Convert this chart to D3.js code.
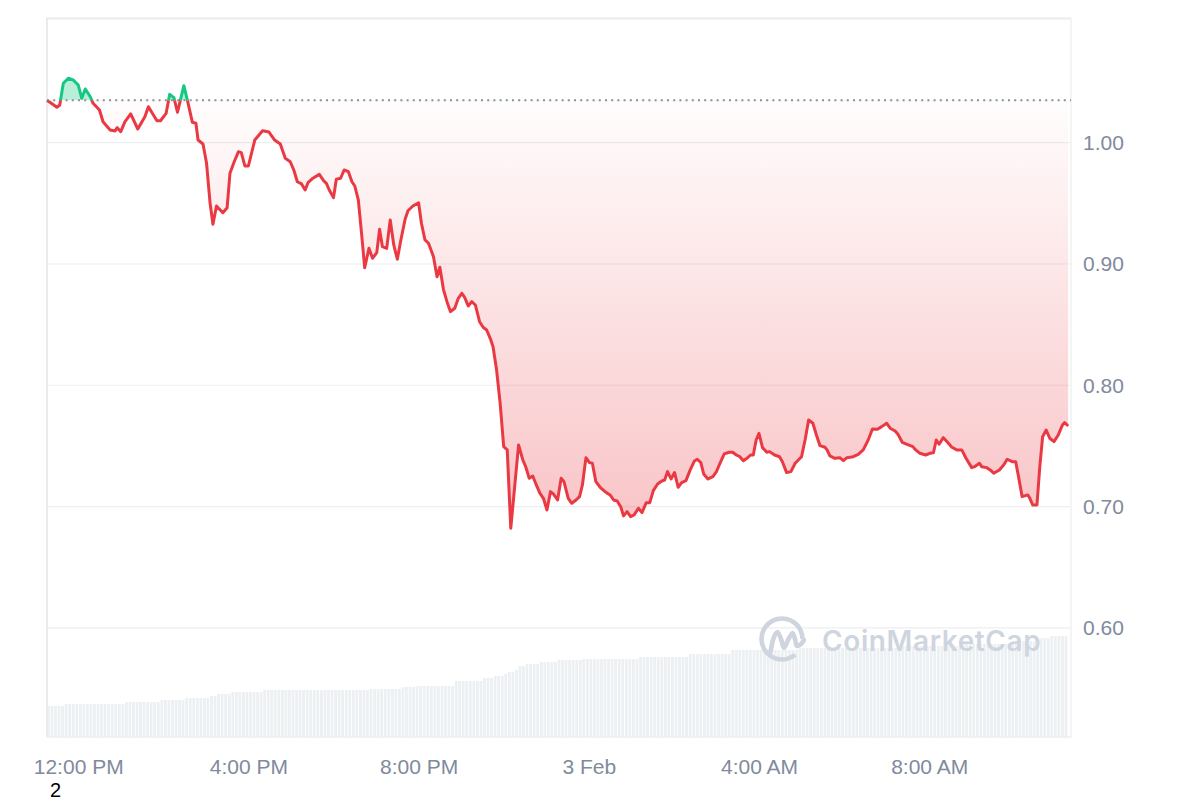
<!DOCTYPE html>
<html><head><meta charset="utf-8">
<script src="https://cdn.jsdelivr.net/npm/d3@7"></script>
<style>body{margin:0;background:#fff}svg{display:block}</style>
</head><body>
<svg id="c" width="1200" height="800"></svg>
<script>
// ---------- DATA ----------
const startTime = "2025-02-02T11:16";
// price samples: minutes after start, price (USD)
const priceMinutes = [0,14,18,23,30,37,44,49,54,61,65,74,79,89,96,99,104,110,118,128,138,143,155,160,168,173,179,184,193,199,205,210,213,220,225,230,234,239,248,254,258,264,270,274,279,284,293,304,313,321,329,336,
343,348,353,359,364,368,375,384,390,394,398,404,408,414,419,425,430,434,439,444,448,454,459,465,469,473,479,484,489,494,499,505,509,516,524,528,533,538,545,550,554,559,564,569,575,580,585,589,594,599,604,610,615,620,625,629,634,639,644,649,654,665,
671,675,680,685,690,695,700,705,710,714,720,725,729,735,740,746,751,755,760,765,769,774,780,787,794,799,804,809,813,818,823,828,834,839,845,850,855,861,867,871,875,880,885,890,895,901,907,913,917,922,926,932,939,944,949,955,962,967,972,977,982,987,992,996,1000,1004,1009,1015,1019,1026,1033,1037,1043,
1049,1055,1064,1069,1074,1080,1085,1090,1097,1100,1104,1111,1118,1123,1128,1137,1144,1151,1158,1164,1171,1177,1184,1189,1196,1200,1206,1212,1221,1225,1231,1239,1245,1250,1254,1258,1264,1268,1276,1283,1290,1296,1304,1308,1315,1318,1325,1330,1335,1343,1349,1354,1361,1366,1370,1375,1383,1386,1390,1396,1400,1404,1409,1414,1420,1426,1432,1435,1440];
const prices = [1.0350,1.0292,1.0311,1.0490,1.0531,1.0517,1.0476,1.0366,1.0443,1.0379,1.0325,1.0270,1.0173,1.0105,1.0096,1.0124,1.0091,1.0173,1.0237,1.0113,1.0214,1.0297,1.0181,1.0181,1.0242,1.0399,1.0371,1.0251,1.0470,1.0325,1.0168,1.0160,1.0022,0.9989,0.9830,0.9500,0.9327,0.9478,0.9423,0.9464,0.9748,0.9843,0.9926,0.9918,0.9808,0.9808,1.0022,1.0099,1.0088,1.0022,0.9989,0.9871,
0.9843,0.9775,0.9678,0.9660,0.9610,0.9670,0.9707,0.9739,0.9687,0.9665,0.9610,0.9547,0.9698,0.9707,0.9775,0.9761,0.9678,0.9643,0.9528,0.9225,0.8969,0.9129,0.9047,0.9093,0.9286,0.9143,0.9129,0.9363,0.9157,0.9039,0.9198,0.9369,0.9439,0.9478,0.9505,0.9336,0.9198,0.9171,0.9060,0.8895,0.8973,0.8791,0.8689,0.8607,0.8635,0.8717,0.8758,0.8725,0.8654,0.8689,0.8662,0.8524,0.8478,0.8456,0.8387,0.8318,0.8126,0.7852,0.7494,0.7467,0.6821,0.7508,
0.7384,0.7329,0.7233,0.7252,0.7178,0.7110,0.7068,0.6972,0.7123,0.7104,0.7054,0.7233,0.7205,0.7068,0.7027,0.7054,0.7082,0.7178,0.7403,0.7362,0.7357,0.7205,0.7159,0.7123,0.7096,0.7054,0.7046,0.6999,0.6923,0.6958,0.6917,0.6931,0.6986,0.6950,0.7032,0.7032,0.7131,0.7186,0.7211,0.7219,0.7288,0.7228,0.7280,0.7159,0.7197,0.7214,0.7302,0.7376,0.7390,0.7362,0.7269,0.7228,0.7247,0.7288,0.7357,0.7434,0.7448,0.7448,0.7425,0.7411,0.7378,0.7398,0.7425,0.7425,0.7549,0.7604,0.7486,0.7448,0.7453,0.7425,0.7411,0.7370,0.7280,
0.7288,0.7357,0.7411,0.7549,0.7714,0.7687,0.7590,0.7502,0.7489,0.7467,0.7417,0.7398,0.7403,0.7378,0.7403,0.7411,0.7431,0.7467,0.7549,0.7640,0.7637,0.7659,0.7687,0.7646,0.7623,0.7596,0.7530,0.7514,0.7494,0.7467,0.7439,0.7425,0.7439,0.7444,0.7549,0.7514,0.7568,0.7543,0.7489,0.7467,0.7467,0.7398,0.7321,0.7329,0.7357,0.7329,0.7321,0.7302,0.7275,0.7302,0.7343,0.7390,0.7370,0.7370,0.7247,0.7082,0.7096,0.7068,0.7013,0.7013,0.7329,0.7576,0.7631,0.7563,0.7535,0.7590,0.7673,0.7692,0.7664];
// volume, one bar per 5 minutes (arbitrary units, millions)
const volumeStepMinutes = 5;
const volumes = [31,31,31,31,31,
33,33,33,33,33,33,33,33,33,33,33,33,33,33,33,33,33,
35,35,35,35,35,35,35,35,35,35,
37,37,37,37,37,37,37,
39,39,39,39,39,39,39,
41,41,
43,43,43,43,
45,45,45,45,45,45,45,45,45,
47,47,47,47,47,47,47,47,47,47,47,47,47,47,47,47,47,47,47,47,47,47,47,47,47,47,47,47,47,47,
48,48,48,48,48,48,48,48,48,
50,50,50,50,
51,51,51,51,51,51,51,51,51,51,51,
56,56,56,56,56,56,56,56,
59,59,59,
61,61,61,
63,
65,65,
67,
71,71,
73,73,73,73,
75,75,75,75,75,
77,77,77,77,77,77,77,
78,78,78,78,78,78,78,78,78,78,78,78,78,78,78,78,
80,80,80,80,80,80,80,80,80,80,80,80,80,80,
83,83,83,83,83,83,83,83,83,83,83,83,
87,87,87,87,87,87,87,87,87,87,87,87,87,87,87,87,87,87,87,
89,89,89,89,89,89,89,89,89,89,89,89,89,89,89,89,89,89,89,89,89,89,89,89,89,89,89,89,89,
91,91,91,91,91,91,91,91,91,91,91,91,91,91,91,91,91,
93,93,93,93,93,93,93,93,93,93,93,93,93,93,
96,96,96,96,96,96,96,96,
99,99,99,
101,101,101,101,101];
const yTicks = [0.60, 0.70, 0.80, 0.90, 1.00];
const xTickTimes = ["2025-02-02T12:00","2025-02-02T16:00","2025-02-02T20:00","2025-02-03T00:00","2025-02-03T04:00","2025-02-03T08:00"];
const xTickLabels = ["12:00 PM","4:00 PM","8:00 PM","3 Feb","4:00 AM","8:00 AM"];

// ---------- CHART ----------
const parse = d3.timeParse("%Y-%m-%dT%H:%M");
const t0 = parse(startTime);
const data = prices.map((v,i)=>({t:d3.timeMinute.offset(t0, priceMinutes[i]), v}));
const baseline = prices[0];

const L=47, R=1071, T=18.5, B=737;
const svg = d3.select("#c");
const FONT = "'Liberation Sans', Arial, sans-serif";

const x = d3.scaleTime().domain([t0, d3.timeMinute.offset(t0, 1444)]).range([L, R]);
const y = d3.scaleLinear().domain([0.51, 1.1024]).range([B, T]);
const vy = d3.scaleLinear().domain([0, d3.max(volumes)]).range([B, 636]);

const defs = svg.append("defs");
const yb = y(baseline);
defs.append("clipPath").attr("id","above").append("rect").attr("x",L-5).attr("y",0).attr("width",R-L+10).attr("height",yb);
defs.append("clipPath").attr("id","below").append("rect").attr("x",L-5).attr("y",yb).attr("width",R-L+10).attr("height",800-yb);
const grad = defs.append("linearGradient").attr("id","redGrad").attr("gradientUnits","userSpaceOnUse")
  .attr("x1",0).attr("x2",0).attr("y1",yb).attr("y2",y(d3.min(prices)));
grad.append("stop").attr("offset",0).attr("stop-color","#ea3943").attr("stop-opacity",0.01);
grad.append("stop").attr("offset",1).attr("stop-color","#ea3943").attr("stop-opacity",0.3);

// gridlines
svg.append("g").selectAll("line").data(yTicks).join("line")
  .attr("x1",L).attr("x2",R).attr("y1",d=>y(d)).attr("y2",d=>y(d))
  .attr("stroke","#eceef1").attr("stroke-width",1.2);

// volume bars
svg.append("g").selectAll("rect").data(volumes).join("rect")
  .attr("x",(d,i)=>x(d3.timeMinute.offset(t0,i*volumeStepMinutes)))
  .attr("width",(d,i)=>Math.max(0.5, x(d3.timeMinute.offset(t0,(i+1)*volumeStepMinutes))-x(d3.timeMinute.offset(t0,i*volumeStepMinutes))-0.8))
  .attr("y",d=>vy(d)).attr("height",d=>B-vy(d))
  .attr("fill","#ecf0f3");

// watermark
const wm = svg.append("g").attr("fill","none").attr("stroke","#cfd5df");
const cx=782, cy=639, r=20.5;
wm.append("path").attr("transform",`translate(${cx},${cy})`)
  .attr("d", d3.arc().innerRadius(r-2.3).outerRadius(r+2.3).startAngle(140*Math.PI/180).endAngle(450*Math.PI/180)())
  .attr("fill","#cfd5df").attr("stroke","none");
wm.append("path").attr("transform",`translate(${cx},${cy})`)
  .attr("d", d3.line().curve(d3.curveCatmullRom)([[-11.5,13],[-8,-2],[-4.5,-7],[-1,0],[2,9],[6,1],[10.5,-6],[13,0],[15,7],[19,5],[22,1]]))
  .attr("stroke-width",4.6).attr("stroke-linecap","round").attr("stroke-linejoin","round");
svg.append("text").attr("x",822).attr("y",651).text("CoinMarketCap")
  .attr("font-family","Inter, 'Open Sans', sans-serif").attr("font-weight",600).attr("font-size",28)
  .attr("letter-spacing",0.6).attr("fill","#cfd5df");

// areas
const area = d3.area().x(d=>x(d.t)).y0(yb).y1(d=>y(d.v));
svg.append("path").datum(data).attr("d",area).attr("fill","rgba(22,199,132,0.3)").attr("clip-path","url(#above)");
svg.append("path").datum(data).attr("d",area).attr("fill","url(#redGrad)").attr("clip-path","url(#below)");

// border
svg.append("line").attr("x1",L).attr("x2",R).attr("y1",T).attr("y2",T).attr("stroke","#ebebeb").attr("stroke-width",2);
svg.append("line").attr("x1",L).attr("x2",L).attr("y1",T-1).attr("y2",B).attr("stroke","#ebebeb").attr("stroke-width",2);
svg.append("line").attr("x1",R).attr("x2",R).attr("y1",T-1).attr("y2",B).attr("stroke","#f0f0f0").attr("stroke-width",1.5);
svg.append("line").attr("x1",L).attr("x2",R).attr("y1",B).attr("y2",B).attr("stroke","#eeeeee").attr("stroke-width",1.5);

// baseline
svg.append("line").attr("x1",L).attr("x2",R).attr("y1",yb).attr("y2",yb)
  .attr("stroke","#8f8f8f").attr("stroke-width",2).attr("stroke-dasharray","2 4.2");

// line
const line = d3.line().x(d=>x(d.t)).y(d=>y(d.v));
svg.append("path").datum(data).attr("d",line).attr("fill","none").attr("stroke","#ea3943")
  .attr("stroke-width",3).attr("stroke-linejoin","round").attr("clip-path","url(#below)");
svg.append("path").datum(data).attr("d",line).attr("fill","none").attr("stroke","#16c784")
  .attr("stroke-width",3).attr("stroke-linejoin","round").attr("clip-path","url(#above)");

// y axis
const ya = svg.append("g").attr("transform",`translate(${R},0)`)
  .call(d3.axisRight(y).tickValues(yTicks).tickFormat(d3.format(".2f")).tickSize(0).tickPadding(12));
ya.select(".domain").remove();
ya.selectAll("text").attr("font-family",FONT).attr("font-size",21).attr("fill","#808a9d");

// x axis
const xa = svg.append("g").attr("transform",`translate(0,${B})`)
  .call(d3.axisBottom(x).tickValues(xTickTimes.map(parse)).tickFormat((d,i)=>xTickLabels[i]).tickSize(0).tickPadding(22));
xa.select(".domain").remove();
xa.selectAll("text").attr("font-family",FONT).attr("font-size",21).attr("fill","#808a9d");

svg.append("text").attr("x",50).attr("y",797).text("2").attr("font-family",FONT).attr("font-size",20).attr("fill","#000");
</script>
</body></html>
